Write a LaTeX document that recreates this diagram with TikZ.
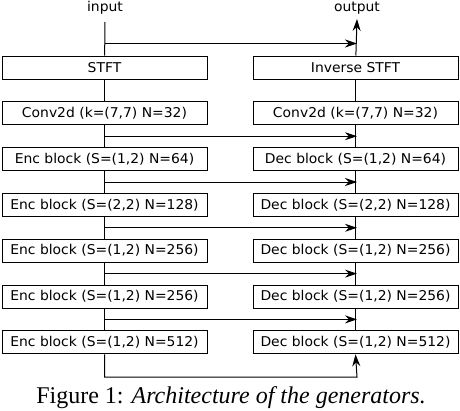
\documentclass[tikz,border=0pt]{standalone}
\usepackage{fontspec}
\setmainfont{Liberation Serif}
\newfontfamily\blockfont[FakeStretch=1.03]{DejaVu Sans}
\usetikzlibrary{arrows.meta,calc}

\begin{document}
\begin{tikzpicture}[x=1pt,y=-1pt,line width=1pt,>={Stealth[length=12pt,width=8pt]}]
        \tikzstyle{every node}=[font=\blockfont\fontsize{13.5}{15}\selectfont]
        \tikzstyle{block}=[draw,fill=white,minimum width=205pt,minimum height=23pt,inner sep=0pt]
        \tikzstyle{skip}=[->]
        \useasboundingbox (0,0) rectangle (460,410);
        % labels and free ends
        \node[anchor=base] (in) at (105,11) {input};
        \node[anchor=base] (out) at (357,11) {output};
        \coordinate (intop) at (105,22);
        \coordinate (outtop) at (357,19);
        \coordinate (bend) at (357,377);
        % encoder / decoder columns
        \node[block] (stft) at (104.5,67.5) {STFT};
        \node[block] (istft) at (355.5,67.5) {Inverse STFT};
        \node[block] (conv) at (104.5,113.3) {Conv2d (k=(7,7) N=32)};
        \node[block] (iconv) at (355.5,113.3) {Conv2d (k=(7,7) N=32)};
        \foreach \i/\s/\n in {1/{(1,2)}/64, 2/{(2,2)}/128, 3/{(1,2)}/256, 4/{(1,2)}/256, 5/{(1,2)}/512} {
            \node[block] (enc\i) at (104.5,{113.3+45.8*\i}) {Enc block (S=\s\ N=\n)};
            \node[block] (dec\i) at (355.5,{113.3+45.8*\i}) {Dec block (S=\s\ N=\n)};
        }
        % main path
        \draw (intop) -- (stft);
        \draw (stft) -- (conv);
        \draw (conv) -- (enc1);
        \foreach \i/\j in {1/2, 2/3, 3/4, 4/5} {
            \draw (enc\i) -- (enc\j);
            \draw (dec\j) -- (dec\i);
        }
        \draw[->] (enc5.south) |- (bend) -- (dec5.south);
        \draw (dec1) -- (iconv);
        \draw (iconv) -- (istft);
        \draw[->] (istft) -- (outtop);
        % skip connections
        \draw[skip] ($(stft.north)+(0,-12)$) -- ($(istft.north)+(1.5,-12)$);
        \draw[skip] ($(conv.south)!.5!(enc1.north)$) -- ($(iconv.south)!.5!(dec1.north)+(1.5,0)$);
        \foreach \i/\j in {1/2, 2/3, 3/4, 4/5}
            \draw[skip] ($(enc\i.south)!.5!(enc\j.north)$) -- ($(dec\i.south)!.5!(dec\j.north)+(1.5,0)$);
        % caption
        \node[anchor=base,font=\rmfamily\fontsize{24}{28}\selectfont] (cap) at (231,403) {Figure 1: \textit{Architecture of the generators.}};
\end{tikzpicture}
\end{document}
